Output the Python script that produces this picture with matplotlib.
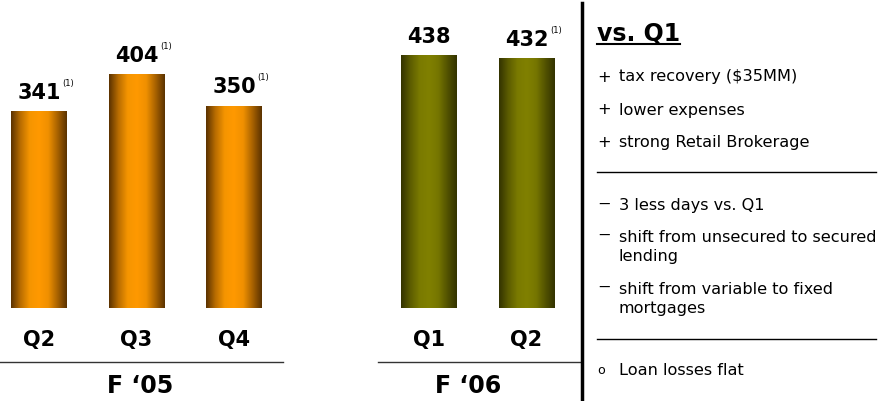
import numpy as np
import matplotlib.pyplot as plt
from matplotlib.colors import LinearSegmentedColormap

# net income by quarter ($MM)
quarters = ['Q2', 'Q3', 'Q4', 'Q1', 'Q2']
values = [341, 404, 350, 438, 432]
footnoted = [True, True, True, False, True]
slots = [0, 1, 2, 4, 5]
fiscal = ['F \u201805', 'F \u201806']

plus_items = ['tax recovery ($35MM)', 'lower expenses', 'strong Retail Brokerage']
minus_items = ['3 less days vs. Q1', 'shift from unsecured to secured\nlending',
               'shift from variable to fixed\nmortgages']
other_items = ['Loan losses flat']

orange = LinearSegmentedColormap.from_list(
    'orange', ['#5a3200', '#b86c00', '#f59500', '#ff9900', '#f09000', '#a86200', '#5a3200'])
olive = LinearSegmentedColormap.from_list(
    'olive', ['#333300', '#5c5c00', '#7a7a00', '#808000', '#767600', '#525200', '#333300'])

W, H = 880, 402
fig = plt.figure(figsize=(W / 100, H / 100), dpi=100)

# pixel scale: 0.577 px per $MM, baseline at y=309, slot spacing 97.5 px
base_px, ppu, step, x0 = 309, 0.577, 97.5, 39
ax = fig.add_axes([0, (H - base_px) / H, 580 / W, base_px / H])
ax.axis('off')

bw = 0.565
bars = ax.bar(slots, values, width=bw, color='none', edgecolor='none')
grad = np.linspace(0, 1, 256).reshape(1, -1)
for i, b in enumerate(bars):
    cm = orange if i < 3 else olive
    ax.imshow(grad, cmap=cm, aspect='auto', interpolation='bilinear',
              extent=[b.get_x(), b.get_x() + b.get_width(), 0, b.get_height()],
              zorder=2)
ax.set_xlim(-x0 / step, (580 - x0) / step)
ax.set_ylim(0, base_px / ppu)

for s, v, fn in zip(slots, values, footnoted):
    ax.annotate(str(v), (s, v), xytext=(0, 7), textcoords='offset points',
                ha='center', va='bottom', fontsize=15, fontweight='bold')
    if fn:
        ax.annotate('(1)', (s, v), xytext=(21, 21), textcoords='offset points',
                    ha='center', va='center', fontsize=6)

for s, q in zip(slots, quarters):
    ax.text(s, -(340 - base_px) / ppu, q, ha='center', va='center',
            fontsize=15, fontweight='bold', clip_on=False)

# overlay in pixel coordinates for group lines and the commentary panel
ov = fig.add_axes([0, 0, 1, 1])
ov.set_xlim(0, W)
ov.set_ylim(H, 0)
ov.axis('off')

ov.plot([0, 283], [363, 363], color='#333333', lw=1)
ov.plot([378, 580], [363, 363], color='#333333', lw=1)
ov.text(140, 386, fiscal[0], ha='center', va='center', fontsize=17, fontweight='bold')
ov.text(468, 386, fiscal[1], ha='center', va='center', fontsize=17, fontweight='bold')

ov.plot([582, 582], [4, H], color='black', lw=2.5)

ov.text(597, 33, 'vs. Q1', ha='left', va='center', fontsize=17, fontweight='bold')
ov.plot([597, 680], [45, 45], color='black', lw=1.5)

fs = 11.6
for y, t in zip([77, 110, 143], plus_items):
    ov.text(597, y, '+', ha='left', va='center', fontsize=fs)
    ov.text(619, y, t, ha='left', va='center', fontsize=fs)
ov.plot([597, 876], [173, 173], color='black', lw=1)

for y, t in zip([206, 247, 299], minus_items):
    ov.text(597, y - (12 if '\n' in t else 2), '\u2212', ha='left', va='center', fontsize=fs)
    ov.text(619, y, t, ha='left', va='center', fontsize=fs, linespacing=1.3)
ov.plot([597, 876], [340, 340], color='black', lw=1)

for y, t in zip([371], other_items):
    ov.text(597, y, 'o', ha='left', va='center', fontsize=fs - 2.5)
    ov.text(619, y, t, ha='left', va='center', fontsize=fs)

fig.savefig('out.png', dpi=100)
